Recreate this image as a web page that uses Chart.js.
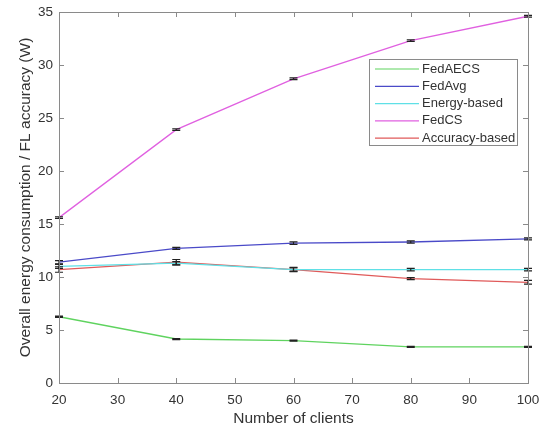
<!DOCTYPE html>
<html>
<head>
<meta charset="utf-8">
<script src="https://cdn.jsdelivr.net/npm/chart.js@4/dist/chart.umd.min.js"></script>
<style>
  html, body { margin: 0; padding: 0; background: #fff; }
  #wrap { width: 546px; height: 431px; }
</style>
</head>
<body>
<div id="wrap"><canvas id="grafico" width="546" height="431"></canvas></div>
<script>
// Datos
const clientes = [20, 40, 60, 80, 100];
const fedAECS = [6.25, 4.15, 4.0, 3.4, 3.4];
const fedAvg = [11.4, 12.7, 13.2, 13.3, 13.6];
const energyBased = [11.0, 11.3, 10.7, 10.7, 10.7];
const fedCS = [15.6, 23.9, 28.7, 32.3, 34.6];
const accuracyBased = [10.7, 11.4, 10.7, 9.85, 9.5];

// Barras de error (semiancho)
const errAECS = [0.05, 0.05, 0.05, 0.05, 0.05];
const errAvg = [0.15, 0.1, 0.12, 0.1, 0.1];
const errEnergy = [0.2, 0.15, 0.15, 0.12, 0.12];
const errCS = [0.08, 0.08, 0.08, 0.08, 0.08];
const errAccuracy = [0.25, 0.25, 0.2, 0.1, 0.18];

const series = [
  { label: "FedAECS", data: fedAECS, err: errAECS, color: "#5fd35f" },
  { label: "FedAvg", data: fedAvg, err: errAvg, color: "#4a4ac8" },
  { label: "Energy-based", data: energyBased, err: errEnergy, color: "#5fe0e6" },
  { label: "FedCS", data: fedCS, err: errCS, color: "#e060e0" },
  { label: "Accuracy-based", data: accuracyBased, err: errAccuracy, color: "#e05a5a" }
];

const fuente = "Liberation Sans, Arial, sans-serif";

// Plugin: caja tipo MATLAB con marcas hacia adentro
const cajaPlugin = {
  id: "caja",
  afterDraw(chart) {
    const { ctx, chartArea: a, scales: { x, y } } = chart;
    ctx.save();
    ctx.strokeStyle = "#8a8a8a";
    ctx.lineWidth = 1;
    ctx.strokeRect(a.left + 0.5, a.top + 0.5, a.right - a.left, a.bottom - a.top);
    const largo = 5;
    ctx.beginPath();
    for (let v = 20; v <= 100; v += 10) {
      const px = Math.round(x.getPixelForValue(v)) + 0.5;
      ctx.moveTo(px, a.bottom); ctx.lineTo(px, a.bottom - largo);
      ctx.moveTo(px, a.top); ctx.lineTo(px, a.top + largo);
    }
    for (let v = 0; v <= 35; v += 5) {
      const py = Math.round(y.getPixelForValue(v)) + 0.5;
      ctx.moveTo(a.left, py); ctx.lineTo(a.left + largo, py);
      ctx.moveTo(a.right, py); ctx.lineTo(a.right - largo, py);
    }
    ctx.stroke();
    ctx.restore();
  }
};

// Plugin: barras de error
const errorPlugin = {
  id: "errores",
  afterDatasetsDraw(chart) {
    const { ctx, scales: { x, y } } = chart;
    ctx.save();
    ctx.strokeStyle = "#222";
    ctx.lineWidth = 1.2;
    series.forEach(s => {
      s.data.forEach((v, i) => {
        const px = x.getPixelForValue(clientes[i]);
        const y1 = y.getPixelForValue(v - s.err[i]);
        const y2 = y.getPixelForValue(v + s.err[i]);
        ctx.beginPath();
        ctx.moveTo(px, y1); ctx.lineTo(px, y2);
        ctx.moveTo(px - 4, y1); ctx.lineTo(px + 4, y1);
        ctx.moveTo(px - 4, y2); ctx.lineTo(px + 4, y2);
        ctx.stroke();
      });
    });
    ctx.restore();
  }
};

// Plugin: leyenda dentro del área
const leyendaPlugin = {
  id: "leyenda",
  afterDraw(chart) {
    const { ctx } = chart;
    const x0 = 369, y0 = 59, w = 148, h = 86;
    ctx.save();
    ctx.fillStyle = "#fff";
    ctx.fillRect(x0, y0, w, h);
    ctx.strokeStyle = "#8a8a8a";
    ctx.lineWidth = 1;
    ctx.strokeRect(x0 + 0.5, y0 + 0.5, w, h);
    ctx.font = "13px " + fuente;
    ctx.textBaseline = "middle";
    series.forEach((s, i) => {
      const yy = y0 + 10 + i * 17.3;
      ctx.strokeStyle = s.color;
      ctx.lineWidth = 1.2;
      ctx.beginPath();
      ctx.moveTo(x0 + 6, yy); ctx.lineTo(x0 + 50, yy);
      ctx.stroke();
      ctx.fillStyle = "#333";
      ctx.fillText(s.label, x0 + 53, yy);
    });
    ctx.restore();
  }
};

const ctx = document.getElementById("grafico").getContext("2d");
const chart = new Chart(ctx, {
  type: "line",
  data: {
    datasets: series.map(s => ({
      label: s.label,
      data: s.data.map((v, i) => ({ x: clientes[i], y: v })),
      borderColor: s.color,
      backgroundColor: s.color,
      borderWidth: 1.3,
      pointRadius: 0,
      tension: 0
    }))
  },
  options: {
    responsive: false,
    animation: false,
    layout: { padding: { top: 12, right: 18, left: 0, bottom: 0 } },
    plugins: { legend: { display: false }, tooltip: { enabled: false } },
    scales: {
      x: {
        type: "linear", min: 20, max: 100,
        grid: { display: false },
        border: { display: false },
        ticks: { stepSize: 10, color: "#333", font: { family: fuente, size: 13.5 }, padding: 1 },
        title: { display: true, text: "Number of clients", color: "#333", font: { family: fuente, size: 15.5 }, padding: { top: 2, bottom: 3 } },
        afterFit(scale) { scale.height = 48; }
      },
      y: {
        min: 0, max: 35,
        grid: { display: false },
        border: { display: false },
        ticks: { stepSize: 5, color: "#333", font: { family: fuente, size: 13.5 }, padding: -2 },
        title: { display: true, text: "Overall energy consumption / FL accuracy (W)", color: "#333", font: { family: fuente, size: 15.5 }, padding: { top: 16, bottom: 0 } },
        afterFit(scale) { scale.width = 59; }
      }
    }
  },
  plugins: [cajaPlugin, errorPlugin, leyendaPlugin]
});
</script>
</body>
</html>
